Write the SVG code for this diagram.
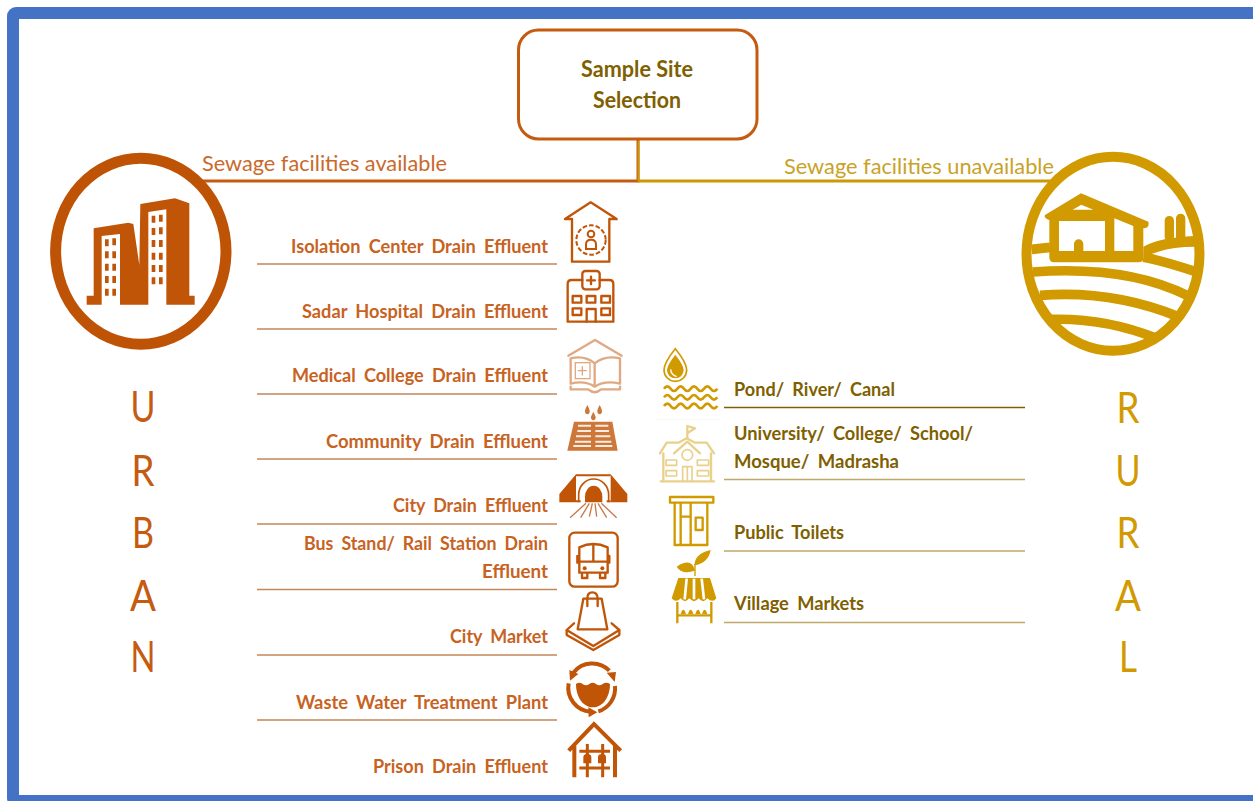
<svg xmlns="http://www.w3.org/2000/svg" width="1253" height="801" viewBox="0 0 1253 801">
<style>
.t{font-family:Lato,"Open Sans","Liberation Sans",sans-serif;font-weight:700;font-size:19px;word-spacing:4px}
.u{fill:#c8621f}.r{fill:#7f6000}
.e{text-anchor:end}
.big{font-family:Lato,"Open Sans","Liberation Sans",sans-serif;font-size:43px;text-anchor:middle}
.sub{font-family:Lato,"Open Sans","Liberation Sans",sans-serif;font-size:22px}
.ul{stroke:#c4875a;stroke-width:1.5;fill:none}
.rl{stroke:#c0a868;stroke-width:1.5;fill:none}
.os{fill:none;stroke:#c05508;stroke-width:7;stroke-linejoin:round;stroke-linecap:round}
.of{fill:#c05508}
.gs{fill:none;stroke:#d19a00;stroke-width:7;stroke-linejoin:round;stroke-linecap:round}
.gf{fill:#d19a00}
.w{fill:#fff}
</style>
<rect x="13" y="13" width="1260" height="788" rx="3" fill="#fff" stroke="#4472c4" stroke-width="12"/>
<g id="connectors">
<path d="M200 181H638V139" fill="none" stroke="#c55a11" stroke-width="3"/>
<path d="M638 181H1052" fill="none" stroke="#c99a06" stroke-width="3"/>
<path d="M638.500 141V181" fill="none" stroke="#c99a06" stroke-width="2"/>
<path class="ul" d="M257 264H557M257 329H557M257 394H557M257 459H557M257 524H557M257 589.500H557M257 655H557M257 720H557"/>
<path d="M724 407.500H1025" stroke="#7f6000" stroke-width="1.300" fill="none"/>
<path class="rl" d="M724 479.500H1025M724 551H1025M724 622.500H1025"/>
</g>
<g id="sample-site">
<rect x="518.500" y="30" width="238.500" height="109" rx="20" fill="#fff" stroke="#c55a11" stroke-width="3"/>
<text class="t r" x="637" y="77" text-anchor="middle" style="font-size:22px;word-spacing:0" textLength="112" lengthAdjust="spacingAndGlyphs">Sample Site</text>
<text class="t r" x="637" y="108" text-anchor="middle" style="font-size:22px;word-spacing:0" textLength="88" lengthAdjust="spacingAndGlyphs">Selection</text>
</g>
<g id="urban">
<ellipse cx="140.800" cy="251.300" rx="85.200" ry="93" fill="none" stroke="#bf5305" stroke-width="11"/>
<g transform="scale(.33333)">
<path class="of" d="M260 887H281V685L385 668 400 672 418 795 421 612 525 595 568 610V887H584V914H499V628L445 636V914H360V702L305 708V914H260Z"/>
<path class="of" d="M315 718h11v21h-11zM337 715h11v21h-11zM315 754h11v21h-11zM337 754h11v21h-11zM315 791h11v21h-11zM337 791h11v21h-11zM315 828h11v21h-11zM337 828h11v21h-11zM315 866h11v21h-11zM337 866h11v21h-11zM455 647h11v21h-11zM477 644h11v21h-11zM455 684h11v21h-11zM477 682h11v21h-11zM455 720h11v21h-11zM477 720h11v21h-11zM455 758h11v21h-11zM477 758h11v21h-11zM455 795h11v21h-11zM477 795h11v21h-11zM455 832h11v21h-11zM477 832h11v21h-11z"/>
</g>
<text class="sub" x="202" y="171" fill="#c96a2c" textLength="245" lengthAdjust="spacingAndGlyphs">Sewage facilities available</text>
<g class="big" fill="#c55a11"><text x="143" y="422" textLength="25" lengthAdjust="spacingAndGlyphs">U</text><text x="143" y="486" textLength="23" lengthAdjust="spacingAndGlyphs">R</text><text x="143" y="548" textLength="22" lengthAdjust="spacingAndGlyphs">B</text><text x="143" y="611" textLength="26" lengthAdjust="spacingAndGlyphs">A</text><text x="143" y="672" textLength="25" lengthAdjust="spacingAndGlyphs">N</text></g>
</g>
<g id="rural">
<ellipse cx="1113" cy="253.800" rx="86.500" ry="97" fill="none" stroke="#d19a00" stroke-width="10"/>
<g transform="translate(1000 140) scale(.33333)">
<path d="M95 328L150 322M98 396C250 385 420 395 565 468M120 466C260 455 400 475 535 530M155 538C260 535 370 555 470 595M430 352C480 360 540 380 590 396" fill="none" stroke="#d19a00" stroke-width="29"/>
<path class="gf" d="M430 320Q480 292 585 288V320Q520 320 475 335L430 350Z"/>
<path class="gf" d="M135 225L243 160 445 245Q450 265 430 265V355Q430 367 415 367H162Q148 367 148 352V240Q130 235 135 225ZM218 209H280L244 194ZM177 243V333H222V312A14 14 0 0 1 250 312V333H315V243ZM343 235V333H400V258Z" fill-rule="evenodd"/>
<path d="M508 290V242M542 290V235" fill="none" stroke="#d19a00" stroke-width="28" stroke-linecap="round"/>
</g>
<text class="sub" x="784" y="174" fill="#c9a227" textLength="270" lengthAdjust="spacingAndGlyphs">Sewage facilities unavailable</text>
<g class="big" fill="#d19a00"><text x="1128" y="423" textLength="23" lengthAdjust="spacingAndGlyphs">R</text><text x="1128" y="486" textLength="25" lengthAdjust="spacingAndGlyphs">U</text><text x="1128" y="548" textLength="23" lengthAdjust="spacingAndGlyphs">R</text><text x="1128" y="611" textLength="26" lengthAdjust="spacingAndGlyphs">A</text><text x="1128" y="672" textLength="18" lengthAdjust="spacingAndGlyphs">L</text></g>
</g>
<g id="isolation-center">
<text class="t u e" x="548" y="253" textLength="257" lengthAdjust="spacingAndGlyphs">Isolation Center Drain Effluent</text>
<g transform="translate(550 195) scale(.33333)">
<path class="os" d="M45 72L122 22 200 72H178V200H66V72Z"/>
<circle cx="123" cy="135" r="44" fill="none" stroke="#c05508" stroke-width="6" stroke-dasharray="14 6"/>
<circle cx="123" cy="117" r="10" fill="none" stroke="#c05508" stroke-width="6"/>
<path d="M108 162V148Q108 134 123 134T138 148V162Z" fill="none" stroke="#c05508" stroke-width="6"/>
</g></g>
<g id="sadar-hospital">
<text class="t u e" x="548" y="318" textLength="246" lengthAdjust="spacingAndGlyphs">Sadar Hospital Drain Effluent</text>
<g transform="translate(550 195) scale(.33333)">
<rect class="os" x="97" y="228" width="52" height="55" rx="9"/>
<path class="os" d="M123 245V268M111 256H135"/>
<path class="os" d="M97 255H65Q53 255 53 267V380H190V267Q190 255 178 255H149"/>
<path class="os" d="M68 303h26v20h-26zM110 303h26v20h-26zM154 303h26v20h-26zM68 340h26v20h-26zM154 340h26v20h-26zM110 380V342h27v38"/>
</g></g>
<g id="medical-college">
<text class="t u e" x="548" y="382" textLength="256" lengthAdjust="spacingAndGlyphs">Medical College Drain Effluent</text>
<g transform="translate(550 195) scale(.33333)" opacity=".5">
<path class="os" d="M55 482L135 435 215 482"/>
<path class="os" d="M62 566V490Q105 480 134 505 165 480 210 490V566Q165 555 134 575 105 555 62 566ZM134 505V575M62 575V583H115Q134 600 153 583H210V575"/>
<rect x="76" y="503" width="44" height="48" fill="none" stroke="#c05508" stroke-width="4"/>
<path class="os" d="M97 515V540M85 527H109" style="stroke-width:4"/>
</g></g>
<g id="community-drain">
<text class="t u e" x="548" y="448" textLength="222" lengthAdjust="spacingAndGlyphs">Community Drain Effluent</text>
<g transform="translate(550 195) scale(.33333)">
<path class="of" opacity=".8" d="M72 680H187L203 767H52Z"/>
<path d="M84 692H123M136 692H175M82 708H123M136 708H177M78 724H123M136 724H181M75 740H123M136 740H184M70 753H123M136 753H187" stroke="#fff" stroke-width="6" fill="none" opacity=".85"/>
<path class="of" opacity=".8" d="M112 630Q102 648 106 654 112 662 118 654 122 648 112 630ZM149 630Q139 648 143 654 149 662 155 654 159 648 149 630ZM130 650Q120 668 124 672 130 680 136 672 140 668 130 650Z"/>
</g></g>
<g id="city-drain">
<text class="t u e" x="548" y="512" textLength="155" lengthAdjust="spacingAndGlyphs">City Drain Effluent</text>
<g transform="translate(550 195) scale(.33333)">
<path class="of" d="M28 922V897L78 838V922ZM232 922V897L182 838V922Z"/>
<path class="of" d="M78 838H182V844H78ZM78 916H92V922H78ZM170 916H182V922H170Z"/>
<path class="of" d="M105 922V905A26 33 0 0 1 157 905V922Z"/>
<path d="M86 922V900A45 48 0 0 1 176 900V922" fill="none" stroke="#c05508" stroke-width="5"/>
<path d="M108 925L60 968M118 925L92 968M127 925L118 965M135 925L140 965M144 925L170 968M154 925L200 968" fill="none" stroke="#c8794a" stroke-width="4"/>
</g></g>
<g id="bus-stand">
<text class="t u e" x="548" y="550" textLength="244" lengthAdjust="spacingAndGlyphs">Bus Stand/ Rail Station Drain</text>
<text class="t u e" x="548" y="578" textLength="66" lengthAdjust="spacingAndGlyphs">Effluent</text>
<g transform="translate(550 520) scale(.33333)">
<rect class="os" x="58" y="38" width="145" height="162" rx="16"/>
<path class="os" d="M88 158V82Q130 62 173 82V158ZM88 125H173M130 78V125M82 108V128M178 108V128M96 160V174H112V160M150 160V174H166V160"/>
<circle cx="104" cy="145" r="6" class="of"/><circle cx="157" cy="145" r="6" class="of"/>
</g></g>
<g id="city-market">
<text class="t u e" x="548" y="643" textLength="98" lengthAdjust="spacingAndGlyphs">City Market</text>
<g transform="translate(550 520) scale(.33333)">
<path class="os" d="M100 236H155L172 328H83ZM112 258V235Q112 217 127 217T143 235V258"/>
<path class="os" d="M72 310L50 330 130 378 208 330 185 310"/>
<path class="os" d="M50 332V345L130 390 208 345V332"/>
</g></g>
<g id="waste-water">
<text class="t u e" x="548" y="709" textLength="252" lengthAdjust="spacingAndGlyphs">Waste Water Treatment Plant</text>
<g transform="translate(550 520) scale(.33333)">
<path d="M70 458A72 72 0 0 1 178 452M195 498A70 72 0 0 1 145 574M122 575A72 72 0 0 1 56 490" fill="none" stroke="#c05508" stroke-width="12"/>
<path class="of" d="M58 450L85 462 60 482ZM170 458L198 456 194 486ZM115 562L142 577 116 592Z"/>
<path class="of" d="M78 492Q88 484 98 492T118 492 138 492 158 492 180 492C180 532 158 562 129 562S78 532 78 492Z"/>
</g></g>
<g id="prison-drain">
<text class="t u e" x="548" y="773" textLength="175" lengthAdjust="spacingAndGlyphs">Prison Drain Effluent</text>
<g transform="translate(550 520) scale(.33333)">
<path d="M56 692L132 612 212 692M73 678V772M195 678V772" fill="none" stroke="#c05508" stroke-width="12"/>
<path d="M112 672V772M158 672V772M88 694H180M88 744H180" fill="none" stroke="#c05508" stroke-width="9"/>
<path class="of" d="M100 712a12 10 0 0 1 24 0v18h-24zM144 712a12 10 0 0 1 24 0v18h-24z"/>
</g></g>
<g id="pond">
<text class="t r" x="734" y="396" textLength="161" lengthAdjust="spacingAndGlyphs">Pond/ River/ Canal</text>
<g transform="translate(650 340) scale(.33333)">
<path d="M76 26Q42 68 42 90A34 34 0 0 0 110 90Q110 68 76 26Z" fill="none" stroke="#d19a00" stroke-width="5"/>
<path class="gf" d="M76 44Q51 76 51 90A25 25 0 0 0 101 90Q101 76 76 44Z"/>
<path d="M62 88Q62 104 80 110" fill="none" stroke="#fff" stroke-width="4"/>
<path d="M42 146Q52 132 62 146T82 146 102 146 122 146 142 146 162 146 182 146 202 146M42 172Q52 158 62 172T82 172 102 172 122 172 142 172 162 172 182 172 202 172M42 198Q52 184 62 198T82 198 102 198 122 198 142 198 162 198 182 198 202 198" fill="none" stroke="#d19a00" stroke-width="8"/>
</g></g>
<g id="university">
<text class="t r" x="734" y="440" textLength="239" lengthAdjust="spacingAndGlyphs">University/ College/ School/</text>
<text class="t r" x="734" y="468" textLength="165" lengthAdjust="spacingAndGlyphs">Mosque/ Madrasha</text>
<g transform="translate(650 340) scale(.33333)" opacity=".45">
<path d="M18 238H206" stroke="#d19a00" stroke-width="1" opacity=".5"/>
<path class="gs" d="M32 424H192M30 340L50 308H85L110 295 135 308H170L192 340M40 340V424M183 340V424M72 340L112 305 150 340M112 295V258L135 265 114 278"/>
<circle cx="112" cy="345" r="16" fill="none" stroke="#d19a00" stroke-width="5"/>
<path class="gs" d="M48 360h32v16h-32zM48 392h32v16h-32zM142 360h34v16h-34zM142 392h34v16h-34zM98 424V380h28v44M112 380v44" style="stroke-width:5"/>
</g></g>
<g id="public-toilets">
<text class="t r" x="734" y="539" textLength="110" lengthAdjust="spacingAndGlyphs">Public Toilets</text>
<g transform="translate(650 340) scale(.33333)">
<rect class="gs" x="60" y="471" width="130" height="17"/>
<path class="gs" d="M74 490V615H172V490M92 490V615M122 490V615M92 530H122"/>
<rect class="gs" x="137" y="533" width="21" height="37"/>
</g></g>
<g id="village-markets">
<text class="t r" x="734" y="610" textLength="130" lengthAdjust="spacingAndGlyphs">Village Markets</text>
<g transform="translate(650 340) scale(.33333)">
<path class="gf" d="M133 676Q135 640 182 630 175 670 133 676ZM135 692Q125 650 80 680 95 705 135 692Z"/>
<path d="M135 708V672" stroke="#d19a00" stroke-width="4"/>
<path class="gf" d="M85 714H180L199 775Q188 790 172 775 160 792 146 775 132 792 118 775 105 792 92 775 78 790 65 775Z"/>
<path d="M110 716L104 778M132 716V778M155 716L162 778" stroke="#fff" stroke-width="8" fill="none"/>
<path d="M82 786V850M184 786V850M82 826H184" stroke="#d19a00" stroke-width="7" fill="none"/>
<path class="gf" d="M92 822Q100 796 108 822ZM114 822Q122 796 130 822ZM136 822Q144 796 152 822ZM156 822Q164 796 172 822Z"/>
</g></g>
</svg>
